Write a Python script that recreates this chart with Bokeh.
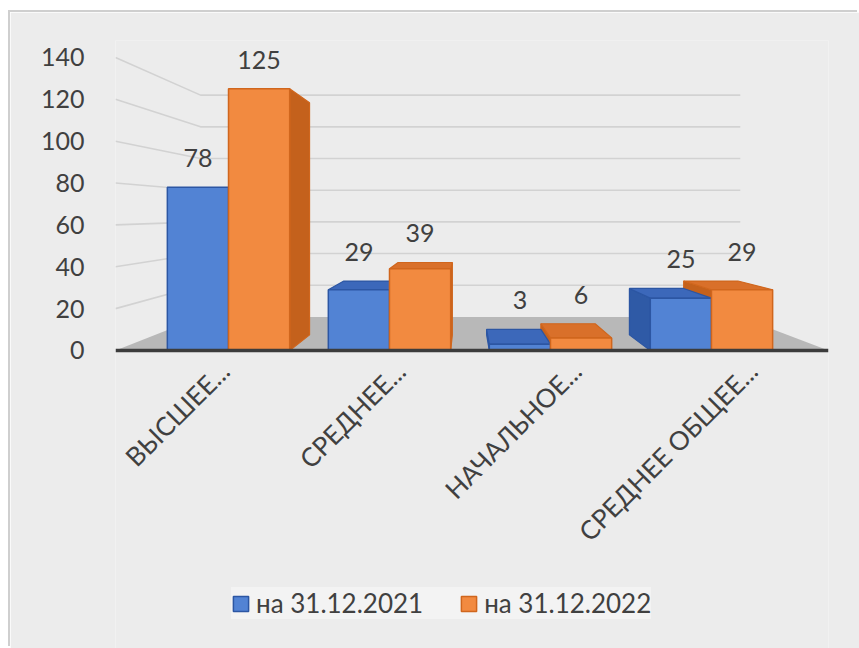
import math
from bokeh.plotting import figure
from bokeh.models import (Range1d, FixedTicker, ColumnDataSource, Span,
                          LabelSet, Legend, LegendItem)
from bokeh.core.properties import value
from bokeh.embed import file_html
from bokeh.resources import INLINE

# ---------------- data ----------------
categories = ["ВЫСШЕЕ...", "СРЕДНЕЕ...", "НАЧАЛЬНОЕ...", "СРЕДНЕЕ ОБЩЕЕ..."]
series_names = ["на 31.12.2021", "на 31.12.2022"]
values_2021 = [78, 29, 3, 25]
values_2022 = [125, 39, 6, 29]
y_ticks = [0, 20, 40, 60, 80, 100, 120, 140]

# ---------------- style ----------------
FONT = "Lato"
TXT = "#404040"
BG = "#ececec"
X0, X1 = -0.702, 3.727          # frame x range (group centres at 0..3)
Y0, Y1 = -142.4, 148.1          # frame extends down to hold labels and legend
BAR_W = 0.38
VX, VY = 1.472, 65.9             # pseudo-perspective vanishing point (data units)
D_BAR, D_FLOOR = 0.113, 0.243

blue = dict(front="#5283d4", side="#2f5aa6", top="#3c68ba", line="#2c56a3")
orange = dict(front="#f28a40", side="#c4611c", top="#d9702a", line="#d0661d")


def proj(x, y, d):
    return x + d * (VX - x), y + d * (VY - y)


p = figure(width=849, height=636, output_backend="svg", toolbar_location=None,
           x_range=Range1d(X0, X1), y_range=Range1d(Y0, Y1),
           x_axis_location=None, min_border_left=105, min_border_right=31,
           min_border_top=28, min_border_bottom=0)
p.styles = {"margin-left": "10px", "margin-top": "12px",
            "box-shadow": "-2px -2px 0px #cfcfcf"}
p.background_fill_color = BG
p.border_fill_color = BG
p.outline_line_color = None
p.grid.visible = False

# y axis
p.yaxis.ticker = FixedTicker(ticks=y_ticks)
p.yaxis.axis_line_color = None
p.yaxis.major_tick_line_color = None
p.yaxis.minor_tick_line_color = None
p.yaxis.major_label_standoff = 25
p.yaxis.major_label_text_font = FONT
p.yaxis.major_label_text_font_size = "25px"
p.yaxis.major_label_text_color = TXT

# floor
fx_l, fy = proj(X0, 0, D_FLOOR)
fx_r, _ = proj(X1, 0, D_FLOOR)
p.patch([X0, X1, fx_r, fx_l], [0, 0, fy, fy], fill_color="#b8b8b8", line_color=None)

# wall gridlines (perspective)
gxs, gys = [], []
for v in y_ticks[1:]:
    bxl, by = proj(X0, v, D_FLOOR)
    bxr, _ = proj(X1, v, D_FLOOR)
    gxs.append([X0, bxl, bxr])
    gys.append([v, by, by])
p.multi_line(gxs, gys, line_color="#d2d2d2", line_width=1.6)

# bars
series = [(values_2021, -BAR_W / 2, blue), (values_2022, BAR_W / 2, orange)]
side_layers, top_layers, fronts = [], [], []
label_x, label_y, label_t = [], [], []
for vals, off, col in series:
    sx, sy, tx, ty = [], [], [], []
    xc = []
    for i, v in enumerate(vals):
        c = i + off
        xl, xr = c - BAR_W / 2, c + BAR_W / 2
        xc.append(c)
        if xr < VX:
            a, b = proj(xr, v, D_BAR), proj(xr, 0, D_BAR)
            sx.append([xr, xr, a[0], b[0]]); sy.append([0, v, a[1], b[1]])
        if xl > VX:
            a, b = proj(xl, v, D_BAR), proj(xl, 0, D_BAR)
            sx.append([xl, xl, a[0], b[0]]); sy.append([0, v, a[1], b[1]])
        bl, br = proj(xl, v, D_BAR), proj(xr, v, D_BAR)
        if v < VY:
            tx.append([xl, xr, br[0], bl[0]]); ty.append([v, v, br[1], bl[1]])
        label_x.append(c)
        label_y.append(max(v, bl[1]))
        label_t.append(str(v))
    side_layers.append((sx, sy, col))
    top_layers.append((tx, ty, col))
    fronts.append((xc, vals, col))

for sx, sy, col in side_layers:
    if sx:
        p.patches(sx, sy, fill_color=col["side"], line_color=col["line"], line_width=1.2)
for tx, ty, col in top_layers:
    if tx:
        p.patches(tx, ty, fill_color=col["top"], line_color=col["line"], line_width=1.2)
bar_renderers = []
for xc, vals, col in fronts:
    src = ColumnDataSource(dict(x=xc, top=vals))
    r = p.vbar(x="x", top="top", bottom=0, width=BAR_W, source=src,
               fill_color=col["front"], line_color=col["line"], line_width=1.5)
    bar_renderers.append(r)

# axis line at zero (front edge of the floor)
p.add_layout(Span(location=0, dimension="width", line_color="#3c3c3c", line_width=3.5))

# value labels
lsrc = ColumnDataSource(dict(x=label_x, y=label_y, t=label_t))
p.add_layout(LabelSet(x="x", y="y", text="t", source=lsrc, y_offset=29,
                      text_align="center", text_baseline="middle",
                      text_font=value(FONT), text_font_size="25px", text_color=TXT))

# category labels along the front edge
p.extra_x_ranges = {"lbl": Range1d(-0.608, 3.443)}
csrc = ColumnDataSource(dict(x=list(range(len(categories))), y=[0] * len(categories), t=categories))
p.add_layout(LabelSet(x="x", y="y", text="t", source=csrc, x_range_name="lbl",
                      angle=math.pi / 4, x_offset=2, y_offset=-16,
                      text_align="right", text_baseline="middle",
                      text_font=value(FONT), text_font_size="26px", text_color=TXT))

# legend
legend = Legend(items=[LegendItem(label=series_names[0], renderers=[bar_renderers[0]]),
                       LegendItem(label=series_names[1], renderers=[bar_renderers[1]])],
                location=(116, 29), orientation="horizontal",
                background_fill_color="#f3f3f3", background_fill_alpha=1.0,
                border_line_color=None, padding=16, spacing=36,
                glyph_width=19, glyph_height=19, label_height=24, label_standoff=6,
                label_text_font=FONT, label_text_font_size="26px",
                label_text_color=TXT)
p.add_layout(legend)

open("out.html", "w").write(file_html(p, INLINE))
